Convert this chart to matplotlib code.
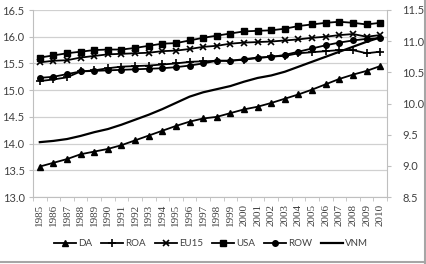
import matplotlib
matplotlib.use("Agg")
import matplotlib.pyplot as plt
from matplotlib.lines import Line2D

years = list(range(1985, 2011))

# left axis
da = [13.57, 13.64, 13.71, 13.80, 13.85, 13.90, 13.97, 14.06, 14.15, 14.24,
      14.33, 14.41, 14.47, 14.50, 14.57, 14.64, 14.69, 14.76, 14.84, 14.92,
      15.01, 15.11, 15.21, 15.29, 15.36, 15.45]
roa = [15.17, 15.20, 15.24, 15.35, 15.37, 15.41, 15.44, 15.45, 15.46, 15.48,
       15.50, 15.53, 15.54, 15.55, 15.55, 15.57, 15.60, 15.63, 15.64, 15.69,
       15.71, 15.73, 15.75, 15.75, 15.69, 15.72]
eu15 = [15.52, 15.55, 15.56, 15.61, 15.64, 15.67, 15.68, 15.69, 15.70, 15.73,
        15.74, 15.77, 15.81, 15.83, 15.87, 15.89, 15.90, 15.91, 15.93, 15.95,
        15.98, 16.00, 16.03, 16.05, 16.00, 16.03]
usa = [15.61, 15.65, 15.69, 15.72, 15.75, 15.76, 15.76, 15.79, 15.83, 15.87,
       15.88, 15.93, 15.98, 16.02, 16.06, 16.10, 16.11, 16.12, 16.15, 16.20,
       16.23, 16.26, 16.28, 16.26, 16.23, 16.26]
row = [15.23, 15.25, 15.30, 15.35, 15.36, 15.37, 15.38, 15.39, 15.40, 15.41,
       15.43, 15.46, 15.50, 15.55, 15.55, 15.58, 15.61, 15.62, 15.66, 15.72,
       15.78, 15.84, 15.89, 15.93, 15.96, 15.97]
# right axis
vnm = [9.38, 9.40, 9.43, 9.48, 9.54, 9.59, 9.66, 9.74, 9.82, 9.91,
       10.01, 10.11, 10.18, 10.23, 10.28, 10.35, 10.41, 10.45, 10.51, 10.59,
       10.67, 10.75, 10.83, 10.91, 10.99, 11.06]

left_ticks = [13.0, 13.5, 14.0, 14.5, 15.0, 15.5, 16.0, 16.5]
right_ticks = [8.5, 9.0, 9.5, 10.0, 10.5, 11.0, 11.5]

plt.rcParams["font.family"] = ["Lato", "DejaVu Sans"]
grey = "#bfbfbf"
txt = "#404040"

fig = plt.figure(figsize=(4.27, 2.64), dpi=100)
ax = fig.add_axes([33 / 427, 67 / 264, 354 / 427, 187 / 264])
ax2 = ax.twinx()

x = list(range(len(years)))
kw = dict(color="black", linewidth=1.3)
ax.plot(x, da, marker="^", markersize=4, label="DA", **kw)
ax.plot(x, roa, marker="+", markersize=5.5, markeredgewidth=1.2, label="ROA", **kw)
ax.plot(x, eu15, marker="x", markersize=4, markeredgewidth=1.2, label="EU15", **kw)
ax.plot(x, usa, marker="s", markersize=4, label="USA", **kw)
ax.plot(x, row, marker="o", markersize=4, label="ROW", **kw)
ax2.plot(x, vnm, color="black", linewidth=1.6, label="VNM")

ax.set_xlim(-0.5, len(years) - 0.5)
ax.set_ylim(13.0, 16.5)
ax2.set_ylim(8.5, 11.5)
ax.set_yticks(left_ticks)
ax.set_yticklabels([f"{v:.1f}" for v in left_ticks])
ax2.set_yticks(right_ticks)
ax2.set_yticklabels([f"{v:.1f}" for v in right_ticks])
ax.yaxis.grid(True, color="#d0d0d0", linewidth=0.9)
ax.set_axisbelow(True)

ax.set_xticks(x)
ax.set_xticklabels([str(y) for y in years], rotation=90,
                   family=["Liberation Serif", "DejaVu Serif"])
ax.set_xticks([i - 0.5 for i in range(len(years) + 1)], minor=True)
ax.tick_params(axis="x", which="major", length=0, labelsize=8, colors=txt, pad=5)
ax.tick_params(axis="x", which="minor", length=3, color=grey)
ax.tick_params(axis="y", length=3, color=grey, labelsize=8, labelcolor=txt, pad=3)
ax2.tick_params(axis="y", length=3, color=grey, labelsize=8, labelcolor=txt, pad=8)

for a in (ax, ax2):
    a.spines["top"].set_visible(False)
    for s in ("left", "right", "bottom"):
        a.spines[s].set_color(grey)
ax.spines["right"].set_visible(False)
ax2.spines["left"].set_visible(False)
ax2.spines["bottom"].set_visible(False)

h1, l1 = ax.get_legend_handles_labels()
h2, l2 = ax2.get_legend_handles_labels()
fig.legend(h1 + h2, l1 + l2, ncol=6, loc="center",
           bbox_to_anchor=(211 / 427, 1 - 244 / 264), frameon=False,
           fontsize=7, handlelength=2.3, handletextpad=0.2,
           columnspacing=0.9, labelcolor=txt)

# chart-area border on right and bottom edges
fig.add_artist(Line2D([425.5 / 427, 425.5 / 427], [1.5 / 264, 1], color="#a6a6a6", linewidth=1.5))
fig.add_artist(Line2D([0, 425.5 / 427], [2 / 264, 2 / 264], color="#a6a6a6", linewidth=1.5))

fig.savefig("out.png", dpi=100)
